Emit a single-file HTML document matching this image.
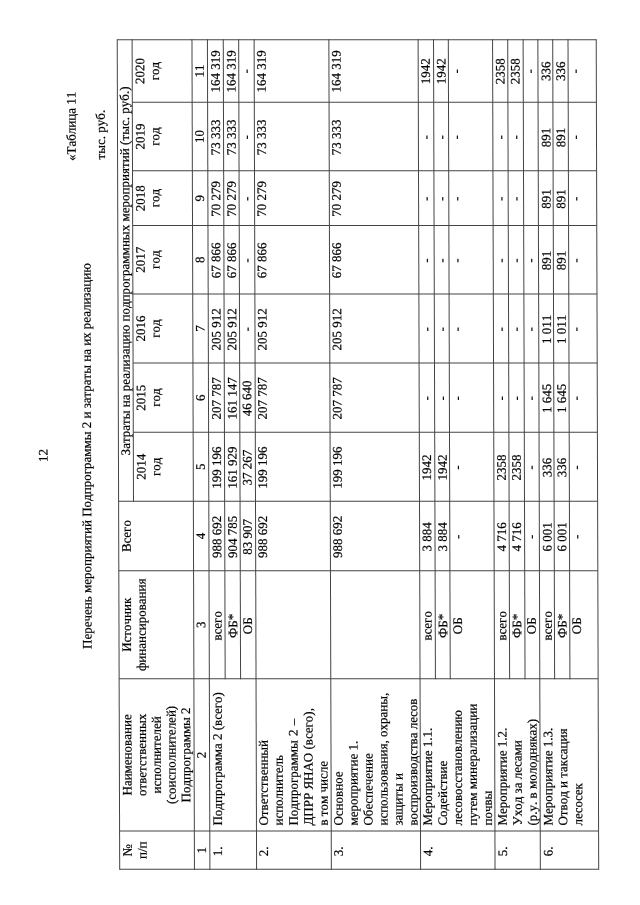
<!DOCTYPE html>
<html lang="ru">
<head>
<meta charset="utf-8">
<title>Таблица 11</title>
<style>
html,body{margin:0;padding:0;background:#fff;}
body{width:640px;height:905px;overflow:hidden;position:relative;}
#page{position:absolute;left:0;top:0;width:905px;height:640px;transform-origin:0 0;
 transform:matrix(-0.003,-1,1,0,1.359,905);
 font-family:"Liberation Serif",serif;font-size:13px;line-height:15px;color:#000;-webkit-text-stroke:0.2px #000;font-kerning:none;}
#page span{position:absolute;white-space:nowrap;}
#page svg{position:absolute;left:0;top:0;}
</style>
</head>
<body>
<div id="page">
<svg width="905" height="640" viewBox="0 0 905 640" fill="#444">
<rect x="35.17" y="117.95" width="830.67" height="1.0"/>
<rect x="403.17" y="132.85" width="462.67" height="1.0"/>
<rect x="35.17" y="192.70" width="830.67" height="1.0"/>
<rect x="35.17" y="208.15" width="830.67" height="1.0"/>
<rect x="35.17" y="254.85" width="830.67" height="1.0"/>
<rect x="35.17" y="329.60" width="830.67" height="1.0"/>
<rect x="35.17" y="418.85" width="830.67" height="1.0"/>
<rect x="35.17" y="493.30" width="830.67" height="1.0"/>
<rect x="35.17" y="538.60" width="830.67" height="1.0"/>
<rect x="35.17" y="596.95" width="830.67" height="1.0"/>
<rect x="225.74" y="224.00" width="640.09" height="1.0"/>
<rect x="225.74" y="239.40" width="640.09" height="1.0"/>
<rect x="225.74" y="434.25" width="640.09" height="1.0"/>
<rect x="225.74" y="449.05" width="640.09" height="1.0"/>
<rect x="225.74" y="508.45" width="640.09" height="1.0"/>
<rect x="225.74" y="523.85" width="640.09" height="1.0"/>
<rect x="225.74" y="553.45" width="640.09" height="1.0"/>
<rect x="225.74" y="568.75" width="640.09" height="1.0"/>
<rect x="35.17" y="118.45" width="1.0" height="479.00"/>
<rect x="73.45" y="118.45" width="1.0" height="479.00"/>
<rect x="225.74" y="118.45" width="1.0" height="479.00"/>
<rect x="333.65" y="118.45" width="1.0" height="479.00"/>
<rect x="403.17" y="118.45" width="1.0" height="479.00"/>
<rect x="472.29" y="133.35" width="1.0" height="464.10"/>
<rect x="541.46" y="133.35" width="1.0" height="464.10"/>
<rect x="610.59" y="133.35" width="1.0" height="464.10"/>
<rect x="679.06" y="133.35" width="1.0" height="464.10"/>
<rect x="733.69" y="133.35" width="1.0" height="464.10"/>
<rect x="802.16" y="133.35" width="1.0" height="464.10"/>
<rect x="864.83" y="118.45" width="1.0" height="479.00"/>
</svg>
<span style="left:449.60px;top:35px;transform:translate(-50%,0.45px)">12</span>
<span style="left:813.20px;top:64px;transform:translate(-100%,0.55px)">«Таблица 11</span>
<span style="left:256.10px;top:78px;transform:translate(0,0.95px)">Перечень мероприятий Подпрограммы 2 и затраты на их реализацию</span>
<span style="left:795.20px;top:93px;transform:translate(-100%,0.85px)">тыс. руб.</span>
<span style="left:54.81px;top:118px;transform:translate(-50%,0.50px)">№</span>
<span style="left:54.81px;top:133px;transform:translate(-50%,0.20px)">п/п</span>
<span style="left:150.10px;top:118px;transform:translate(-50%,0.50px)">Наименование</span>
<span style="left:150.10px;top:133px;transform:translate(-50%,0.20px)">ответственных</span>
<span style="left:150.10px;top:147px;transform:translate(-50%,0.90px)">исполнителей</span>
<span style="left:150.10px;top:162px;transform:translate(-50%,0.60px)">(соисполнителей)</span>
<span style="left:150.10px;top:177px;transform:translate(-50%,0.30px)">Подпрограммы 2</span>
<span style="left:280.19px;top:118px;transform:translate(-50%,0.50px)">Источник</span>
<span style="left:280.19px;top:133px;transform:translate(-50%,0.20px)">финансирования</span>
<span style="left:368.91px;top:118px;transform:translate(-50%,0.50px)">Всего</span>
<span style="left:449.60px;top:117px;transform:translate(0,0.90px);letter-spacing:0.032px">Затраты на реализацию подпрограммных мероприятий (тыс. руб.)</span>
<span style="left:438.23px;top:133px;transform:translate(-50%,0.40px)">2014</span>
<span style="left:438.23px;top:148px;transform:translate(-50%,0.10px)">год</span>
<span style="left:507.38px;top:133px;transform:translate(-50%,0.40px)">2015</span>
<span style="left:507.38px;top:148px;transform:translate(-50%,0.10px)">год</span>
<span style="left:576.53px;top:133px;transform:translate(-50%,0.40px)">2016</span>
<span style="left:576.53px;top:148px;transform:translate(-50%,0.10px)">год</span>
<span style="left:645.32px;top:133px;transform:translate(-50%,0.40px)">2017</span>
<span style="left:645.32px;top:148px;transform:translate(-50%,0.10px)">год</span>
<span style="left:706.87px;top:133px;transform:translate(-50%,0.40px)">2018</span>
<span style="left:706.87px;top:148px;transform:translate(-50%,0.10px)">год</span>
<span style="left:768.42px;top:133px;transform:translate(-50%,0.40px)">2019</span>
<span style="left:768.42px;top:148px;transform:translate(-50%,0.10px)">год</span>
<span style="left:834.00px;top:133px;transform:translate(-50%,0.40px)">2020</span>
<span style="left:834.00px;top:148px;transform:translate(-50%,0.10px)">год</span>
<span style="left:54.81px;top:192px;transform:translate(-50%,0.80px)">1</span>
<span style="left:150.10px;top:192px;transform:translate(-50%,0.80px)">2</span>
<span style="left:280.19px;top:192px;transform:translate(-50%,0.80px)">3</span>
<span style="left:368.91px;top:192px;transform:translate(-50%,0.80px)">4</span>
<span style="left:438.23px;top:192px;transform:translate(-50%,0.80px)">5</span>
<span style="left:507.38px;top:192px;transform:translate(-50%,0.80px)">6</span>
<span style="left:576.53px;top:192px;transform:translate(-50%,0.80px)">7</span>
<span style="left:645.32px;top:192px;transform:translate(-50%,0.80px)">8</span>
<span style="left:706.87px;top:192px;transform:translate(-50%,0.80px)">9</span>
<span style="left:768.42px;top:192px;transform:translate(-50%,0.80px)">10</span>
<span style="left:834.00px;top:192px;transform:translate(-50%,0.80px)">11</span>
<span style="left:48.67px;top:208px;transform:translate(0,0.90px)">1.</span>
<span style="left:79.45px;top:208px;transform:translate(0,0.90px)">Подпрограмма 2 (всего)</span>
<span style="left:279.19px;top:208px;transform:translate(-50%,0.90px)">всего</span>
<span style="left:368.11px;top:208px;transform:translate(-50%,0.90px)">988 692</span>
<span style="left:437.43px;top:208px;transform:translate(-50%,0.90px)">199 196</span>
<span style="left:506.58px;top:208px;transform:translate(-50%,0.90px)">207 787</span>
<span style="left:575.73px;top:208px;transform:translate(-50%,0.90px)">205 912</span>
<span style="left:644.52px;top:208px;transform:translate(-50%,0.90px)">67 866</span>
<span style="left:706.07px;top:208px;transform:translate(-50%,0.90px)">70 279</span>
<span style="left:767.62px;top:208px;transform:translate(-50%,0.90px)">73 333</span>
<span style="left:833.70px;top:208px;transform:translate(-50%,0.90px)">164 319</span>
<span style="left:279.19px;top:224px;transform:translate(-50%,0.60px)">ФБ*</span>
<span style="left:368.11px;top:224px;transform:translate(-50%,0.60px)">904 785</span>
<span style="left:437.43px;top:224px;transform:translate(-50%,0.60px)">161 929</span>
<span style="left:506.58px;top:224px;transform:translate(-50%,0.60px)">161 147</span>
<span style="left:575.73px;top:224px;transform:translate(-50%,0.60px)">205 912</span>
<span style="left:644.52px;top:224px;transform:translate(-50%,0.60px)">67 866</span>
<span style="left:706.07px;top:224px;transform:translate(-50%,0.60px)">70 279</span>
<span style="left:767.62px;top:224px;transform:translate(-50%,0.60px)">73 333</span>
<span style="left:833.70px;top:224px;transform:translate(-50%,0.60px)">164 319</span>
<span style="left:279.19px;top:239px;transform:translate(-50%,0.50px)">ОБ</span>
<span style="left:368.11px;top:239px;transform:translate(-50%,0.50px)">83 907</span>
<span style="left:437.43px;top:239px;transform:translate(-50%,0.50px)">37 267</span>
<span style="left:506.58px;top:239px;transform:translate(-50%,0.50px)">46 640</span>
<span style="left:575.73px;top:239px;transform:translate(-50%,0.50px)">-</span>
<span style="left:644.52px;top:239px;transform:translate(-50%,0.50px)">-</span>
<span style="left:706.07px;top:239px;transform:translate(-50%,0.50px)">-</span>
<span style="left:767.62px;top:239px;transform:translate(-50%,0.50px)">-</span>
<span style="left:833.70px;top:239px;transform:translate(-50%,0.50px)">-</span>
<span style="left:48.67px;top:254px;transform:translate(0,0.80px)">2.</span>
<span style="left:79.45px;top:254px;transform:translate(0,0.80px)">Ответственный</span>
<span style="left:79.45px;top:269px;transform:translate(0,0.75px)">исполнитель</span>
<span style="left:79.45px;top:284px;transform:translate(0,0.70px);word-spacing:1px">Подпрограммы 2 –</span>
<span style="left:79.45px;top:299px;transform:translate(0,0.65px)">ДПРР ЯНАО (всего),</span>
<span style="left:79.45px;top:314px;transform:translate(0,0.60px)">в том числе</span>
<span style="left:368.11px;top:254px;transform:translate(-50%,0.80px)">988 692</span>
<span style="left:437.43px;top:254px;transform:translate(-50%,0.80px)">199 196</span>
<span style="left:506.58px;top:254px;transform:translate(-50%,0.80px)">207 787</span>
<span style="left:575.73px;top:254px;transform:translate(-50%,0.80px)">205 912</span>
<span style="left:644.52px;top:254px;transform:translate(-50%,0.80px)">67 866</span>
<span style="left:706.07px;top:254px;transform:translate(-50%,0.80px)">70 279</span>
<span style="left:767.62px;top:254px;transform:translate(-50%,0.80px)">73 333</span>
<span style="left:833.70px;top:254px;transform:translate(-50%,0.80px)">164 319</span>
<span style="left:48.67px;top:329px;transform:translate(0,0.60px)">3.</span>
<span style="left:79.45px;top:329px;transform:translate(0,0.60px)">Основное</span>
<span style="left:79.45px;top:344px;transform:translate(0,0.55px)">мероприятие 1.</span>
<span style="left:79.45px;top:359px;transform:translate(0,0.50px)">Обеспечение</span>
<span style="left:79.45px;top:374px;transform:translate(0,0.45px)">использования, охраны,</span>
<span style="left:79.45px;top:389px;transform:translate(0,0.40px)">защиты и</span>
<span style="left:79.45px;top:404px;transform:translate(0,0.35px)">воспроизводства лесов</span>
<span style="left:368.11px;top:329px;transform:translate(-50%,0.60px)">988 692</span>
<span style="left:437.43px;top:329px;transform:translate(-50%,0.60px)">199 196</span>
<span style="left:506.58px;top:329px;transform:translate(-50%,0.60px)">207 787</span>
<span style="left:575.73px;top:329px;transform:translate(-50%,0.60px)">205 912</span>
<span style="left:644.52px;top:329px;transform:translate(-50%,0.60px)">67 866</span>
<span style="left:706.07px;top:329px;transform:translate(-50%,0.60px)">70 279</span>
<span style="left:767.62px;top:329px;transform:translate(-50%,0.60px)">73 333</span>
<span style="left:833.70px;top:329px;transform:translate(-50%,0.60px)">164 319</span>
<span style="left:48.67px;top:419px;transform:translate(0,0.00px)">4.</span>
<span style="left:79.45px;top:419px;transform:translate(0,0.00px)">Мероприятие 1.1.</span>
<span style="left:79.45px;top:433px;transform:translate(0,0.95px)">Содействие</span>
<span style="left:79.45px;top:448px;transform:translate(0,0.90px)">лесовосстановлению</span>
<span style="left:79.45px;top:463px;transform:translate(0,0.85px)">путем минерализации</span>
<span style="left:79.45px;top:478px;transform:translate(0,0.80px)">почвы</span>
<span style="left:279.19px;top:419px;transform:translate(-50%,0.00px)">всего</span>
<span style="left:368.11px;top:419px;transform:translate(-50%,0.00px)">3 884</span>
<span style="left:437.43px;top:419px;transform:translate(-50%,0.00px)">1942</span>
<span style="left:506.58px;top:419px;transform:translate(-50%,0.00px)">-</span>
<span style="left:575.73px;top:419px;transform:translate(-50%,0.00px)">-</span>
<span style="left:644.52px;top:419px;transform:translate(-50%,0.00px)">-</span>
<span style="left:706.07px;top:419px;transform:translate(-50%,0.00px)">-</span>
<span style="left:767.62px;top:419px;transform:translate(-50%,0.00px)">-</span>
<span style="left:833.70px;top:419px;transform:translate(-50%,0.00px)">1942</span>
<span style="left:279.19px;top:434px;transform:translate(-50%,0.60px)">ФБ*</span>
<span style="left:368.11px;top:434px;transform:translate(-50%,0.60px)">3 884</span>
<span style="left:437.43px;top:434px;transform:translate(-50%,0.60px)">1942</span>
<span style="left:506.58px;top:434px;transform:translate(-50%,0.60px)">-</span>
<span style="left:575.73px;top:434px;transform:translate(-50%,0.60px)">-</span>
<span style="left:644.52px;top:434px;transform:translate(-50%,0.60px)">-</span>
<span style="left:706.07px;top:434px;transform:translate(-50%,0.60px)">-</span>
<span style="left:767.62px;top:434px;transform:translate(-50%,0.60px)">-</span>
<span style="left:833.70px;top:434px;transform:translate(-50%,0.60px)">1942</span>
<span style="left:279.19px;top:449px;transform:translate(-50%,0.55px)">ОБ</span>
<span style="left:368.11px;top:449px;transform:translate(-50%,0.55px)">-</span>
<span style="left:437.43px;top:449px;transform:translate(-50%,0.55px)">-</span>
<span style="left:506.58px;top:449px;transform:translate(-50%,0.55px)">-</span>
<span style="left:575.73px;top:449px;transform:translate(-50%,0.55px)">-</span>
<span style="left:644.52px;top:449px;transform:translate(-50%,0.55px)">-</span>
<span style="left:706.07px;top:449px;transform:translate(-50%,0.55px)">-</span>
<span style="left:767.62px;top:449px;transform:translate(-50%,0.55px)">-</span>
<span style="left:833.70px;top:449px;transform:translate(-50%,0.55px)">-</span>
<span style="left:48.67px;top:493px;transform:translate(0,0.70px)">5.</span>
<span style="left:79.45px;top:493px;transform:translate(0,0.70px)">Мероприятие 1.2.</span>
<span style="left:79.45px;top:508px;transform:translate(0,0.65px)">Уход за лесами</span>
<span style="left:79.45px;top:523px;transform:translate(0,0.60px)">(р.у. в молодняках)</span>
<span style="left:279.19px;top:493px;transform:translate(-50%,0.70px)">всего</span>
<span style="left:368.11px;top:493px;transform:translate(-50%,0.70px)">4 716</span>
<span style="left:437.43px;top:493px;transform:translate(-50%,0.70px)">2358</span>
<span style="left:506.58px;top:493px;transform:translate(-50%,0.70px)">-</span>
<span style="left:575.73px;top:493px;transform:translate(-50%,0.70px)">-</span>
<span style="left:644.52px;top:493px;transform:translate(-50%,0.70px)">-</span>
<span style="left:706.07px;top:493px;transform:translate(-50%,0.70px)">-</span>
<span style="left:767.62px;top:493px;transform:translate(-50%,0.70px)">-</span>
<span style="left:833.70px;top:493px;transform:translate(-50%,0.70px)">2358</span>
<span style="left:279.19px;top:508px;transform:translate(-50%,0.70px)">ФБ*</span>
<span style="left:368.11px;top:508px;transform:translate(-50%,0.70px)">4 716</span>
<span style="left:437.43px;top:508px;transform:translate(-50%,0.70px)">2358</span>
<span style="left:506.58px;top:508px;transform:translate(-50%,0.70px)">-</span>
<span style="left:575.73px;top:508px;transform:translate(-50%,0.70px)">-</span>
<span style="left:644.52px;top:508px;transform:translate(-50%,0.70px)">-</span>
<span style="left:706.07px;top:508px;transform:translate(-50%,0.70px)">-</span>
<span style="left:767.62px;top:508px;transform:translate(-50%,0.70px)">-</span>
<span style="left:833.70px;top:508px;transform:translate(-50%,0.70px)">2358</span>
<span style="left:279.19px;top:523px;transform:translate(-50%,0.30px)">ОБ</span>
<span style="left:368.11px;top:523px;transform:translate(-50%,0.30px)">-</span>
<span style="left:437.43px;top:523px;transform:translate(-50%,0.30px)">-</span>
<span style="left:506.58px;top:523px;transform:translate(-50%,0.30px)">-</span>
<span style="left:575.73px;top:523px;transform:translate(-50%,0.30px)">-</span>
<span style="left:644.52px;top:523px;transform:translate(-50%,0.30px)">-</span>
<span style="left:833.70px;top:523px;transform:translate(-50%,0.30px)">-</span>
<span style="left:48.67px;top:539px;transform:translate(0,0.30px)">6.</span>
<span style="left:79.45px;top:539px;transform:translate(0,0.30px)">Мероприятие 1.3.</span>
<span style="left:79.45px;top:554px;transform:translate(0,0.25px)">Отвод и таксация</span>
<span style="left:79.45px;top:569px;transform:translate(0,0.20px)">лесосек</span>
<span style="left:279.19px;top:539px;transform:translate(-50%,0.30px)">всего</span>
<span style="left:368.11px;top:539px;transform:translate(-50%,0.30px)">6 001</span>
<span style="left:437.43px;top:539px;transform:translate(-50%,0.30px)">336</span>
<span style="left:506.58px;top:539px;transform:translate(-50%,0.30px)">1 645</span>
<span style="left:575.73px;top:539px;transform:translate(-50%,0.30px)">1 011</span>
<span style="left:644.52px;top:539px;transform:translate(-50%,0.30px)">891</span>
<span style="left:706.07px;top:539px;transform:translate(-50%,0.30px)">891</span>
<span style="left:767.62px;top:539px;transform:translate(-50%,0.30px)">891</span>
<span style="left:833.70px;top:539px;transform:translate(-50%,0.30px)">336</span>
<span style="left:279.19px;top:554px;transform:translate(-50%,0.05px)">ФБ*</span>
<span style="left:368.11px;top:554px;transform:translate(-50%,0.05px)">6 001</span>
<span style="left:437.43px;top:554px;transform:translate(-50%,0.05px)">336</span>
<span style="left:506.58px;top:554px;transform:translate(-50%,0.05px)">1 645</span>
<span style="left:575.73px;top:554px;transform:translate(-50%,0.05px)">1 011</span>
<span style="left:644.52px;top:554px;transform:translate(-50%,0.05px)">891</span>
<span style="left:706.07px;top:554px;transform:translate(-50%,0.05px)">891</span>
<span style="left:767.62px;top:554px;transform:translate(-50%,0.05px)">891</span>
<span style="left:833.70px;top:554px;transform:translate(-50%,0.05px)">336</span>
<span style="left:279.19px;top:568px;transform:translate(-50%,0.45px)">ОБ</span>
<span style="left:368.11px;top:568px;transform:translate(-50%,0.45px)">-</span>
<span style="left:437.43px;top:568px;transform:translate(-50%,0.45px)">-</span>
<span style="left:506.58px;top:568px;transform:translate(-50%,0.45px)">-</span>
<span style="left:575.73px;top:568px;transform:translate(-50%,0.45px)">-</span>
<span style="left:644.52px;top:568px;transform:translate(-50%,0.45px)">-</span>
<span style="left:706.07px;top:568px;transform:translate(-50%,0.45px)">-</span>
<span style="left:767.62px;top:568px;transform:translate(-50%,0.45px)">-</span>
<span style="left:833.70px;top:568px;transform:translate(-50%,0.45px)">-</span>
</div>
</body>
</html>
